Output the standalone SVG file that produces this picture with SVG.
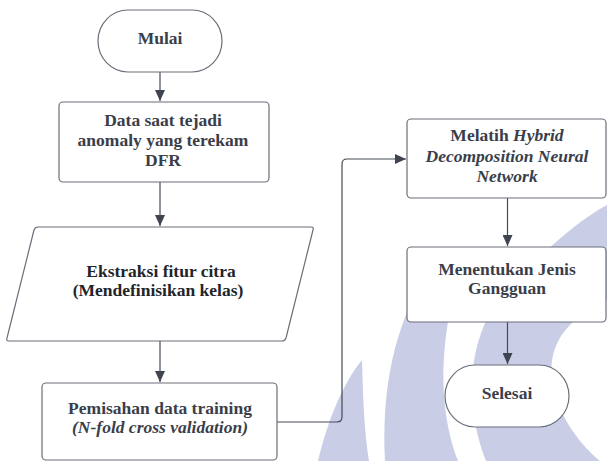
<svg xmlns="http://www.w3.org/2000/svg" width="607" height="461" viewBox="0 0 607 461">
  <style>
    .wm { fill: #c9cde6; }
    .box { fill: #ffffff; stroke: #6a6e78; stroke-width: 1.2; }
    .t { font-family: 'Liberation Serif', 'DejaVu Serif', serif; font-weight: bold; font-size: 17.5px; fill: #3a3e4a; text-anchor: middle; }
    .dark { fill: #222428; }
    .it { font-style: italic; }
    .conn { stroke: #454a55; stroke-width: 1.2; fill: none; marker-end: url(#arrow); }
  </style>
  <defs>
    <marker id="arrow" markerUnits="userSpaceOnUse" markerWidth="11" markerHeight="10" refX="11" refY="5" orient="auto">
      <path d="M0,0 L11,5 L0,10 Z" fill="#3f4450"/>
    </marker>
  </defs>

  <rect x="0" y="0" width="607" height="461" fill="#ffffff"/>

  <g id="watermark">
    <path class="wm" d="M 318 461 C 328 420 342 385 362 360 C 363 395 364 430 369 461 Z"/>
    <path class="wm" d="M 385 461 C 382 400 390 340 420 285 C 440 300 452 310 448 322 C 440 370 442 420 458 461 Z"/>
    <path class="wm" d="M 486 461 C 462 400 468 330 510 285 C 535 262 570 225 607 205 L 607 300 C 565 320 548 345 552 380 C 556 410 575 440 600 461 Z"/>
  </g>

  <g id="connectors">
    <path class="conn" d="M 160 72 V 101"/>
    <path class="conn" d="M 160 182 V 226"/>
    <path class="conn" d="M 160 341 V 382"/>
    <path class="conn" d="M 277 422 H 337 Q 342 422 342 417 V 164 Q 342 159 347 159 H 406"/>
    <path class="conn" d="M 507.5 198 V 246"/>
    <path class="conn" d="M 507.5 322 V 364"/>
  </g>

  <g id="mulai">
    <rect class="box" x="98" y="10" width="124" height="62" rx="30" ry="31"/>
    <text class="t" x="160" y="44">Mulai</text>
  </g>

  <g id="data">
    <rect class="box" x="59" y="102" width="210" height="80" rx="4"/>
    <text class="t" x="163" y="126">Data saat tejadi</text>
    <text class="t" x="163" y="146">anomaly yang terekam</text>
    <text class="t" x="163" y="166">DFR</text>
  </g>

  <g id="ekstraksi">
    <path class="box" stroke-linejoin="round" d="M 38 227 H 311 Q 314 227 313 230 L 286 338 Q 285 341 282 341 H 9 Q 6 341 7 338 L 34 230 Q 35 227 38 227 Z"/>
    <text class="t dark" x="161" y="277">Ekstraksi fitur citra</text>
    <text class="t dark" x="158" y="296">(Mendefinisikan kelas)</text>
  </g>

  <g id="pemisahan">
    <rect class="box" x="42" y="383" width="235" height="77" rx="4"/>
    <text class="t" x="160" y="414">Pemisahan data training</text>
    <text class="t it" x="160" y="433">(N-fold cross validation)</text>
  </g>

  <g id="melatih">
    <rect class="box" x="407" y="119" width="199" height="79" rx="4"/>
    <text class="t" x="507" y="141"><tspan>Melatih </tspan><tspan class="it">Hybrid</tspan></text>
    <text class="t it" x="507" y="162">Decomposition Neural</text>
    <text class="t it" x="507" y="182">Network</text>
  </g>

  <g id="menentukan">
    <rect class="box" x="407" y="247" width="199" height="75" rx="4"/>
    <text class="t" x="507" y="275">Menentukan Jenis</text>
    <text class="t" x="507" y="294">Gangguan</text>
  </g>

  <g id="selesai">
    <rect class="box" x="445" y="365" width="124" height="62" rx="30" ry="31"/>
    <text class="t" x="507" y="399">Selesai</text>
  </g>
</svg>
